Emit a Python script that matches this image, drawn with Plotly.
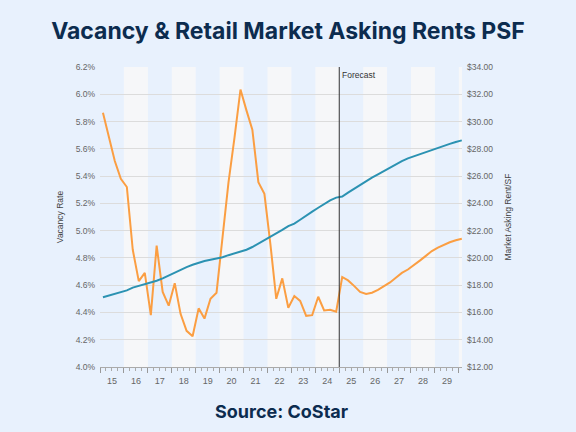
import plotly.graph_objects as go

# ---- data (quarterly, 2015Q1 .. 2030Q1) ----
start_year = 2015
vacancy = [5.865, 5.69, 5.51, 5.38, 5.32, 4.86, 4.63, 4.69, 4.38, 4.89,
           4.55, 4.45, 4.615, 4.39, 4.265, 4.225, 4.43, 4.355, 4.50, 4.545,
           4.93, 5.35, 5.68, 6.035, 5.88, 5.74, 5.355, 5.27, 4.90, 4.50,
           4.65, 4.435, 4.52, 4.485, 4.375, 4.38, 4.515, 4.415, 4.42, 4.405,
           4.66, 4.635, 4.595, 4.55, 4.535, 4.545, 4.565, 4.59, 4.62, 4.655,
           4.69, 4.715, 4.745, 4.78, 4.815, 4.85, 4.875, 4.895, 4.915, 4.93,
           4.94]
rent = [17.12, 17.24, 17.36, 17.47, 17.62, 17.82, 17.95, 18.05, 18.20, 18.33,
        18.50, 18.72, 18.95, 19.15, 19.33, 19.50, 19.65, 19.77, 19.86, 19.93,
        20.05, 20.20, 20.33, 20.45, 20.60, 20.80, 21.04, 21.30, 21.55, 21.80,
        22.05, 22.33, 22.52, 22.80, 23.07, 23.40, 23.68, 23.95, 24.22, 24.42,
        24.50, 24.79, 25.08, 25.37, 25.63, 25.88, 26.12, 26.37, 26.62, 26.87,
        27.10, 27.30, 27.46, 27.62, 27.78, 27.93, 28.07, 28.21, 28.36, 28.50,
        28.62]
forecast_start = "2025-01-01"
band_years = [2016, 2018, 2020, 2022, 2024, 2026, 2028, 2030]

months = ["02-15", "05-15", "08-15", "11-15"]
dates = [f"{start_year + i // 4}-{months[i % 4]}" for i in range(len(vacancy))]

NAVY = "#0c2c4f"
BG = "#e8f1fd"
BAND = "#f6f7f9"
ORANGE = "#fb9e42"
BLUE = "#2b92b2"
TICK = "#666666"
FONT = "Liberation Sans, Arial, sans-serif"
HEAD = "Inter, Open Sans, sans-serif"

fig = go.Figure()
fig.add_trace(go.Scatter(x=dates, y=vacancy, mode="lines", name="Vacancy Rate",
                         line=dict(color=ORANGE, width=2), yaxis="y"))
fig.add_trace(go.Scatter(x=dates, y=rent, mode="lines", name="Market Asking Rent/SF",
                         line=dict(color=BLUE, width=2), yaxis="y2"))

shapes = []
for yr in band_years:
    shapes.append(dict(type="rect", xref="x", yref="paper",
                       x0=f"{yr}-01-01", x1=f"{yr + 1}-01-01", y0=0, y1=1,
                       fillcolor=BAND, line=dict(width=0), layer="below"))
shapes.append(dict(type="line", xref="x", yref="paper", x0=forecast_start, x1=forecast_start,
                   y0=0, y1=1, line=dict(color="#333333", width=1)))

fig.update_layout(
    width=576, height=432,
    margin=dict(l=100, r=114, t=67, b=65),
    paper_bgcolor=BG, plot_bgcolor=BG,
    showlegend=False,
    shapes=shapes,
    title=dict(text="<b>Vacancy & Retail Market Asking Rents PSF</b>",
               x=0.5, xanchor="center", y=1 - 31 / 432, yanchor="middle", yref="container",
               font=dict(family=HEAD, size=23, color=NAVY)),
    xaxis=dict(type="date", range=["2015-01-01", "2030-02-18"],
               dtick="M12", tick0="2015-01-01", tickformat="%y", ticklabelmode="period",
               ticks="outside", ticklen=5, tickcolor="#999999",
               minor=dict(dtick="M3", ticks="outside", ticklen=3, tickcolor="#aaaaaa", showgrid=False),
               showgrid=False, showline=True, linecolor="#aaaaaa", linewidth=1,
               tickfont=dict(family=FONT, size=9, color=TICK), zeroline=False),
    yaxis=dict(range=[4.0, 6.2], dtick=0.2, tickformat=".1f", ticksuffix="%",
               showgrid=True, gridcolor="#dcdcdc", gridwidth=1, zeroline=False,
               showline=False, ticks="", ticklabelstandoff=4,
               tickfont=dict(family=FONT, size=8.5, color=TICK),
               title=dict(text="Vacancy Rate", standoff=10,
                          font=dict(family=FONT, size=8.5, color="#444444"))),
    yaxis2=dict(range=[12, 34], dtick=2, tickformat=".2f", tickprefix="$",
                overlaying="y", side="right", showgrid=False, zeroline=False,
                showline=False, ticks="", ticklabelstandoff=4,
                tickfont=dict(family=FONT, size=8.5, color=TICK),
                title=dict(text="Market Asking Rent/SF", standoff=12,
                           font=dict(family=FONT, size=8.5, color="#444444"))),
    annotations=[
        dict(text="Forecast", xref="x", yref="paper", x=forecast_start, y=1,
             xanchor="left", yanchor="top", xshift=1, yshift=-1, showarrow=False,
             font=dict(family=FONT, size=8.5, color="#333333")),
        dict(text="<b>Source: CoStar</b>", xref="paper", yref="paper", x=0.5, y=-(411.5 - 367) / 300,
             xanchor="center", yanchor="middle", showarrow=False,
             font=dict(family=HEAD, size=18, color=NAVY)),
    ],
)

fig.write_html("out.html", config={"displayModeBar": False},
               post_script="document.body.style.margin='0';document.body.style.background='%s';" % BG)
